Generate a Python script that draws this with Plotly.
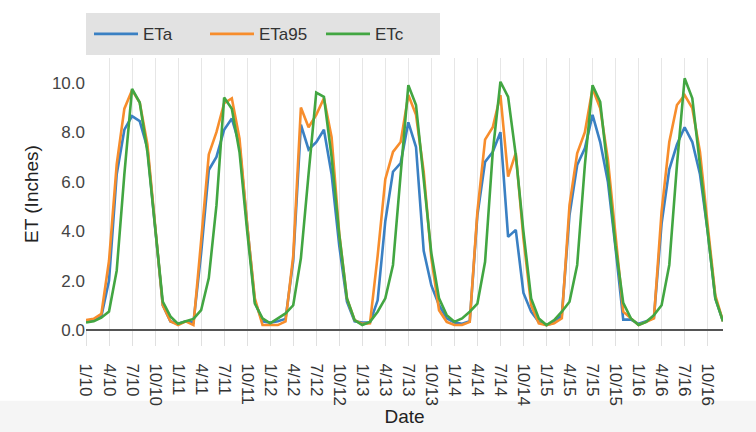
import plotly.graph_objects as go

years = [10, 11, 12, 13, 14, 15, 16]
months = [f"{m}/{y}" for y in years for m in range(1, 13)]

eta = [
    0.35, 0.4, 0.55, 2.0, 6.3, 8.1, 8.65, 8.45, 7.35, 4.25, 1.0, 0.35,
    0.25, 0.35, 0.3, 3.1, 6.47, 7.0, 8.1, 8.55, 7.5, 4.25, 1.15, 0.35,
    0.3, 0.35, 0.45, 2.8, 8.3, 7.3, 7.6, 8.1, 6.3, 3.4, 1.15, 0.35,
    0.3, 0.3, 1.2, 4.4, 6.4, 6.75, 8.4, 7.4, 3.2, 1.8, 1.0, 0.47,
    0.3, 0.25, 0.35, 4.65, 6.8, 7.2, 8.0, 3.77, 4.05, 1.5, 0.74, 0.33,
    0.2, 0.3, 0.6, 4.65, 6.67, 7.35, 8.7, 7.6, 6.0, 3.3, 0.42, 0.42,
    0.25, 0.35, 0.5, 4.3, 6.5, 7.5, 8.2, 7.6, 6.3, 4.0, 1.28, 0.35,
]
eta95 = [
    0.4, 0.45, 0.65, 2.8, 6.7, 8.95, 9.7, 9.2, 7.5, 4.4, 1.0, 0.35,
    0.2, 0.35, 0.2, 3.6, 7.1, 8.0, 9.17, 9.37, 7.75, 4.25, 1.28, 0.2,
    0.2, 0.2, 0.35, 3.0, 9.0, 8.2, 8.7, 9.37, 7.8, 3.9, 1.28, 0.4,
    0.25, 0.27, 3.0, 6.1, 7.2, 7.6, 9.5, 8.7, 6.4, 2.9, 0.8, 0.33,
    0.2, 0.2, 0.33, 4.8, 7.7, 8.2, 9.5, 6.2, 7.15, 3.7, 1.0, 0.27,
    0.2, 0.27, 0.47, 5.05, 7.15, 8.0, 9.77, 8.97, 6.9, 3.7, 0.74, 0.47,
    0.2, 0.33, 0.47, 4.8, 7.6, 9.1, 9.5, 8.97, 7.2, 4.25, 1.4, 0.35,
]
etc_ = [
    0.3, 0.35, 0.5, 0.75, 2.4, 6.3, 9.75, 9.2, 7.2, 4.25, 1.15, 0.55,
    0.25, 0.35, 0.45, 0.8, 2.1, 5.05, 9.4, 8.95, 7.2, 4.0, 1.07, 0.47,
    0.27, 0.47, 0.67, 1.0, 2.9, 6.3, 9.6, 9.43, 7.0, 3.85, 1.28, 0.4,
    0.2, 0.33, 0.74, 1.28, 2.63, 6.3, 9.9, 9.1, 6.1, 3.1, 1.28, 0.6,
    0.33, 0.47, 0.74, 1.07, 2.76, 7.2, 10.04, 9.43, 7.07, 3.97, 1.28, 0.47,
    0.2, 0.4, 0.74, 1.14, 2.63, 6.67, 9.9, 9.23, 6.4, 3.4, 1.1, 0.47,
    0.2, 0.33, 0.6, 1.0, 2.63, 6.67, 10.18, 9.37, 6.67, 4.0, 1.28, 0.35,
]

tick_labels = months[::3]
y_ticks = [0, 2, 4, 6, 8, 10]

series = [
    ("ETa", eta, "#3a80c3"),
    ("ETa95", eta95, "#f78d2c"),
    ("ETc", etc_, "#42a642"),
]

fig = go.Figure()
for name, vals, col in series:
    fig.add_trace(go.Scatter(
        x=months, y=vals, name=name, mode="lines",
        line=dict(color=col, width=2.6),
    ))

fig.update_layout(
    width=756, height=432,
    margin=dict(l=86, r=33, t=58, b=102),
    paper_bgcolor="white", plot_bgcolor="white",
    font=dict(family="Liberation Sans, Arial, sans-serif", color="#333"),
    legend=dict(
        orientation="h", x=0, xanchor="left", y=1.01, yanchor="bottom",
        bgcolor="#e2e2e2", bordercolor="#e2e2e2", borderwidth=3,
        font=dict(size=17, color="#333"),
        itemwidth=44, entrywidth=57, entrywidthmode="pixels",
    ),
    shapes=[dict(
        type="rect", xref="paper", yref="paper",
        x0=-0.2, x1=1.1, y0=-0.26, y1=-0.42,
        fillcolor="#f5f5f5", line=dict(width=0), layer="below",
    )],
)

fig.update_xaxes(
    type="category", categoryorder="array", categoryarray=months,
    range=[0, len(months) - 1],
    tickmode="array", tickvals=tick_labels, ticktext=tick_labels,
    tickangle=90, tickfont=dict(size=17, color="#333"),
    ticks="outside", ticklen=15, tickcolor="#e0e0e0", tickwidth=1,
    ticklabelstandoff=14,
    showgrid=True, gridcolor="#e6e6e6", gridwidth=1,
    showline=False, zeroline=False,
    title=dict(text="Date", font=dict(size=19, color="#222"), standoff=0),
    automargin=False,
)
fig.update_yaxes(
    range=[0, 11], tickmode="array", tickvals=y_ticks,
    ticktext=[f"{v:.1f}" for v in y_ticks],
    tickfont=dict(size=17, color="#444"),
    showgrid=False, zeroline=True, zerolinecolor="#555", zerolinewidth=1.5,
    showline=False, ticks="",
    title=dict(text="ET (Inches)", font=dict(size=19, color="#222"), standoff=8),
    automargin=False,
)

fig.write_html("out.html")
